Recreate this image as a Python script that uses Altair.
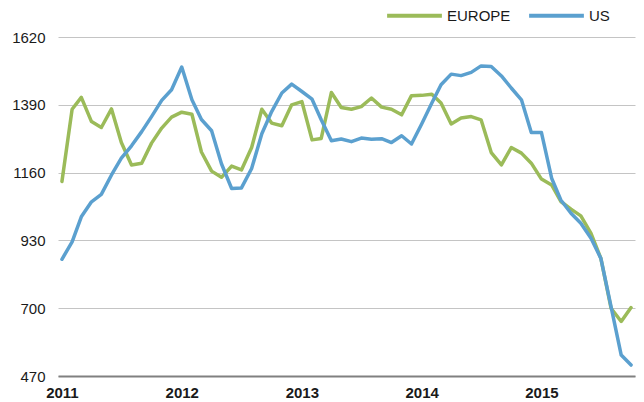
import altair as alt
import pandas as pd

europe = [1130, 1375, 1415, 1333, 1313, 1376, 1262, 1186, 1192, 1260, 1311, 1348,
          1365, 1358, 1230, 1165, 1144, 1182, 1169, 1245, 1375, 1328, 1319, 1390,
          1401, 1271, 1276, 1432, 1381, 1375, 1384, 1413, 1382, 1375, 1356, 1421,
          1422, 1426, 1396, 1325, 1345, 1350, 1339, 1228, 1186, 1245, 1226, 1192,
          1138, 1118, 1062, 1036, 1013, 954, 869, 700, 655, 702]
us = [866, 925, 1010, 1061, 1086, 1152, 1209, 1251, 1299, 1350, 1405, 1441,
      1518, 1407, 1340, 1302, 1190, 1106, 1108, 1174, 1292, 1367, 1430, 1460,
      1435, 1409, 1339, 1268, 1274, 1265, 1277, 1273, 1275, 1262, 1285, 1257,
      1325, 1396, 1458, 1494, 1489, 1500, 1522, 1520, 1488, 1447, 1407, 1296,
      1296, 1141, 1067, 1022, 988, 937, 869, 705, 541, 507]
months = pd.date_range("2011-01-01", periods=len(europe), freq="MS")
series_names = ["EUROPE", "US"]
series_colors = ["#9BBB59", "#5BA0CF"]
y_ticks = [470, 700, 930, 1160, 1390, 1620]
year_ticks = [2011, 2012, 2013, 2014, 2015]

df = pd.DataFrame({"month": months, "EUROPE": europe, "US": us})
long = df.melt(id_vars="month", var_name="series", value_name="value")

FONT = "Liberation Sans"

chart = alt.Chart(long).mark_line(strokeWidth=3.5, strokeJoin="round", strokeCap="round").encode(
    x=alt.X("month:T",
            scale=alt.Scale(domain=[alt.DateTime(year=2010, month=12, date=20),
                                    alt.DateTime(year=2015, month=10, date=13)]),
            axis=alt.Axis(values=[alt.DateTime(year=y, month=1, date=1) for y in year_ticks],
                          format="%Y", title=None, ticks=False, grid=False,
                          domain=True, domainColor="#808080", domainWidth=2,
                          labelFont=FONT, labelFontSize=15, labelFontWeight="bold",
                          labelColor="#1a1a1a", labelPadding=9)),
    y=alt.Y("value:Q",
            scale=alt.Scale(domain=[470, 1620], nice=False, zero=False),
            axis=alt.Axis(values=y_ticks, format="d", title=None, ticks=False, domain=False,
                          grid=True, gridColor="#c4c4c4", gridWidth=1,
                          labelFont=FONT, labelFontSize=15, labelColor="#1a1a1a",
                          labelPadding=13)),
    color=alt.Color("series:N",
                    scale=alt.Scale(domain=series_names, range=series_colors),
                    legend=alt.Legend(title=None, orient="none", direction="horizontal",
                                      legendX=327, legendY=-51,
                                      symbolType="stroke", symbolSize=3000,
                                      symbolStrokeWidth=4, labelFont=FONT,
                                      labelFontSize=15, labelColor="#1a1a1a",
                                      labelOffset=3, columnPadding=10)),
).properties(
    width=577, height=339,
    autosize=alt.AutoSizeParams(type="none"),
    padding={"left": 50, "top": 29, "right": 1, "bottom": 26},
).configure_view(stroke=None)

chart.save("out.html", embed_options={"renderer": "svg", "actions": False})
